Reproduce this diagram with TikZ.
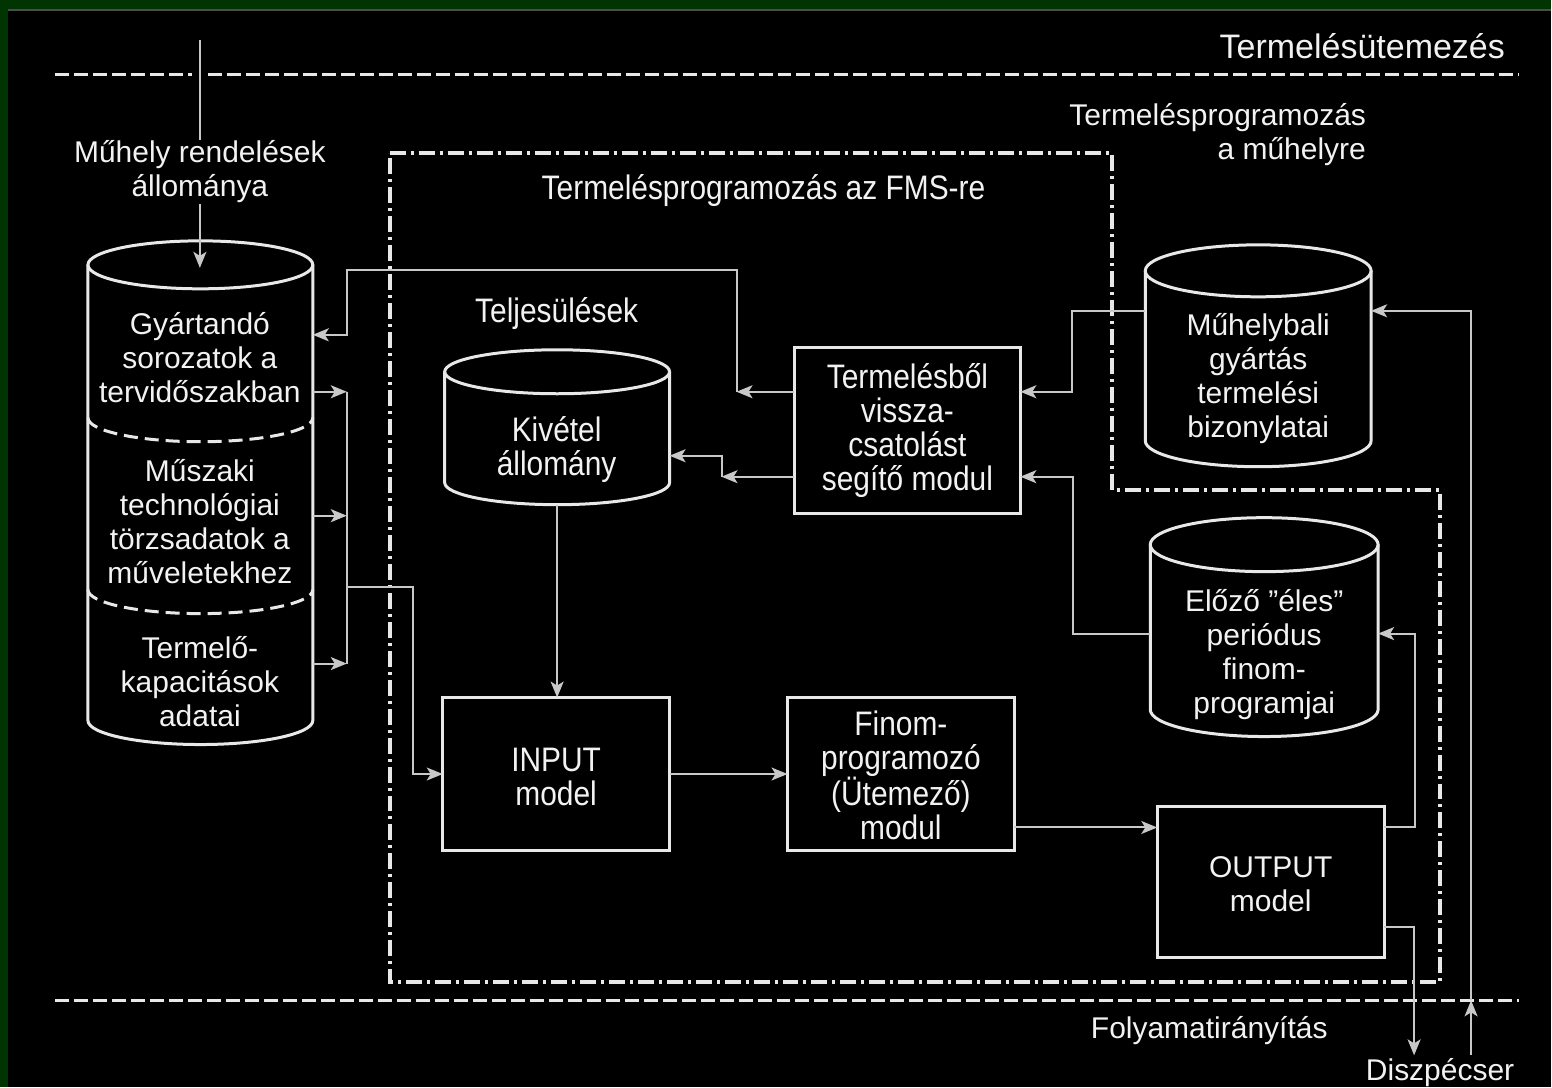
\documentclass[tikz,border=0pt]{standalone}
\usepackage{fontspec}
\setmainfont{Liberation Sans}
\newfontfamily\narrowfont[FakeStretch=0.88]{Liberation Sans}
\usetikzlibrary{arrows.meta}
\definecolor{bggreen}{RGB}{0,52,0}
\definecolor{lineclr}{RGB}{232,232,232}
\definecolor{connclr}{RGB}{200,200,200}
\definecolor{txtclr}{RGB}{242,242,242}
\newcommand{\drawcyl}[5]{%
  \pgfmathsetmacro{\cylcx}{(#1+#2)/2}%
  \pgfmathsetmacro{\cylrx}{(#2-#1)/2}%
  \draw[shapeline] (#1,-#3-#5) -- (#1,-#4+#5)
     arc[start angle=180,end angle=360,x radius=\cylrx,y radius=#5]
     -- (#2,-#3-#5);
  \draw[shapeline] (\cylcx,-#3-#5) ellipse[x radius=\cylrx,y radius=#5];
}
\begin{document}
\begin{tikzpicture}[x=1pt,y=1pt,
  shapeline/.style={draw=lineclr,line width=3pt},
  boxst/.style={draw=lineclr,line width=3pt,inner sep=0pt,outer sep=0pt},
  cylnode/.style={draw=none,inner sep=0pt,outer sep=0pt},
  conn/.style={draw=connclr,line width=2pt},
  arr/.style={conn,-{Stealth[length=16pt,width=13pt,inset=4pt]}},
  dashline/.style={draw=lineclr,line width=3pt,dash pattern=on 14pt off 5pt},
  dotline/.style={draw=lineclr,line width=4pt,dash pattern=on 16pt off 5pt on 3pt off 5pt},
  lbl/.style={text=txtclr,inner sep=1pt,align=center,font=\fontsize{30}{34}\selectfont},
  nlbl/.style={text=txtclr,inner sep=1pt,align=center,font=\narrowfont\fontsize{34}{34}\selectfont},
]
% background and frame
\fill[black] (0,0) rectangle (1552,-1088);
\fill[bggreen] (0,0) rectangle (1552,-9);
\fill[bggreen] (0,0) rectangle (8,-1088);
\draw[draw=black!70,line width=2pt] (8,-10.5) -- (1552,-10.5);
\useasboundingbox (0,0) rectangle (1552,-1088);

% level separators
\node[lbl,anchor=east,font=\fontsize{34}{38}\selectfont] (ttl) at (1507,-46) {Termelésütemezés};
\draw[dashline] (55,-75) -- (192,-75);
\draw[dashline] (208,-75) -- (1520,-75);
\draw[dashline] (55,-1001) -- (1520,-1001);
\node[lbl] (folyam) at (1210,-1031) {Folyamatirányítás};
\node[lbl] (disz) at (1441,-1073) {Diszpécser};

% FMS outline
\draw[dotline] (390,-153) -- (1113,-153) -- (1113,-490) -- (1441,-490) -- (1441,-983) -- (390,-983) -- cycle;
\node[nlbl] (fmslbl) at (764,-191) {Termelésprogramozás az FMS-re};
\node[lbl,anchor=east,align=right] (muhlbl) at (1368,-135) {Termelésprogramozás\\a műhelyre};

% left database
\node[lbl] (order) at (200,-172) {Műhely rendelések\\állománya};
\node[cylnode,minimum width=225pt,minimum height=504pt] (db) at (200.5,-493) {};
\drawcyl{88}{313}{241}{745}{24}
\draw[shapeline,dash pattern=on 14pt off 7pt] (88,-418) arc[start angle=180,end angle=360,x radius=112.5,y radius=24];
\draw[shapeline,dash pattern=on 14pt off 7pt] (88,-590) arc[start angle=180,end angle=360,x radius=112.5,y radius=24];
\node[lbl] (g1) at (200,-358) {Gyártandó\\sorozatok a\\tervidőszakban};
\node[lbl] (g2) at (200,-522) {Műszaki\\technológiai\\törzsadatok a\\műveletekhez};
\node[lbl] (g3) at (200,-682) {Termelő-\\kapacitások\\adatai};

% inner database
\node[nlbl] (telj) at (557,-314) {Teljesülések};
\node[cylnode,minimum width=225pt,minimum height=155pt] (kiv) at (557.5,-427.5) {};
\drawcyl{445}{670}{350}{505}{22}
\node[nlbl] (kivt) at (557,-450) {Kivétel\\állomány};

% boxes
\node[boxst,minimum width=226pt,minimum height=166pt] (fb) at (908,-431) {};
\node[nlbl] (fbt) at (908,-431) {Termelésből\\vissza-\\csatolást\\segítő modul};
\node[boxst,minimum width=227pt,minimum height=153pt] (inp) at (556.5,-774.5) {};
\node[nlbl] (inpt) at (556.5,-777) {INPUT\\model};
\node[boxst,minimum width=227pt,minimum height=153pt] (fin) at (901.5,-774.5) {};
\node[nlbl] (fint) at (901.5,-776) {Finom-\\programozó\\(Ütemező)\\modul};
\node[boxst,minimum width=227pt,minimum height=151pt] (out) at (1271.5,-882.5) {};
\node[lbl] (outt) at (1271.5,-885) {OUTPUT\\model};

% right databases
\node[cylnode,minimum width=226pt,minimum height=222pt] (muh) at (1259,-356) {};
\drawcyl{1146}{1372}{245}{467}{26}
\node[lbl] (muht) at (1259,-379) {Műhelybali\\gyártás\\termelési\\bizonylatai};
\node[cylnode,minimum width=228pt,minimum height=219pt] (elo) at (1265,-627.5) {};
\drawcyl{1151}{1379}{518}{737}{27}
\node[lbl] (elot) at (1265,-655) {Előző ”éles”\\periódus\\finom-\\programjai};

% coordinates for bends
\coordinate (src) at (200,-40);
\coordinate (dbtop) at (200,-268);
\coordinate (b1) at (347,-392);
\coordinate (b2) at (347,-516);
\coordinate (b3) at (347,-664);
\coordinate (bj) at (347,-587);
\coordinate (bk) at (413,-587);
\coordinate (f1) at (737,-392);
\coordinate (f2) at (737,-270);
\coordinate (f3) at (347,-270);
\coordinate (f4) at (347,-335);
\coordinate (k1) at (722,-477);
\coordinate (k2) at (722,-456);
\coordinate (m1) at (1073,-311);
\coordinate (m2) at (1073,-392);
\coordinate (e1) at (1074,-634);
\coordinate (e2) at (1074,-477);
\coordinate (o1) at (1416,-828);
\coordinate (o2) at (1416,-634);
\coordinate (o3) at (1415,-928);
\coordinate (o4) at (1415,-1056);
\coordinate (d1) at (1472,-1056);
\coordinate (d2) at (1472,-1001);
\coordinate (d3) at (1472,-311);

% connectors
\draw[conn] (src) -- (order.north);
\draw[arr] (order.south) -- (dbtop);
\draw[arr] (db.east |- b1) -- (b1);
\draw[arr] (db.east |- b2) -- (b2);
\draw[arr] (db.east |- b3) -- (b3);
\draw[conn] (b1) -- (b3);
\draw[arr] (bj) -- (bk) |- (inp.west);
\draw[arr] (fb.west |- f1) -- (f1);
\draw[arr] (f1) -- (f2) -- (f3) -- (f4) -- (db.east |- f4);
\draw[arr] (fb.west |- k1) -- (k1);
\draw[arr] (k1) -- (k2) -- (kiv.east |- k2);
\draw[arr] (kiv.south) -- (kiv.south |- inp.north);
\draw[arr] (inp.east) -- (fin.west);
\draw[arr] (fin.east |- o1) -- (out.west |- o1);
\draw[arr] (muh.west |- m1) -- (m1) -- (m2) -- (fb.east |- m2);
\draw[arr] (elo.west |- e1) -- (e1) -- (e2) -- (fb.east |- e2);
\draw[arr] (out.east |- o1) -- (o1) -- (o2) -- (elo.east |- o2);
\draw[arr] (out.east |- o3) -- (o3) -- (o4);
\draw[arr] (d1) -- (d2);
\draw[arr] (d2) -- (d3) -- (muh.east |- d3);
\end{tikzpicture}
\end{document}
